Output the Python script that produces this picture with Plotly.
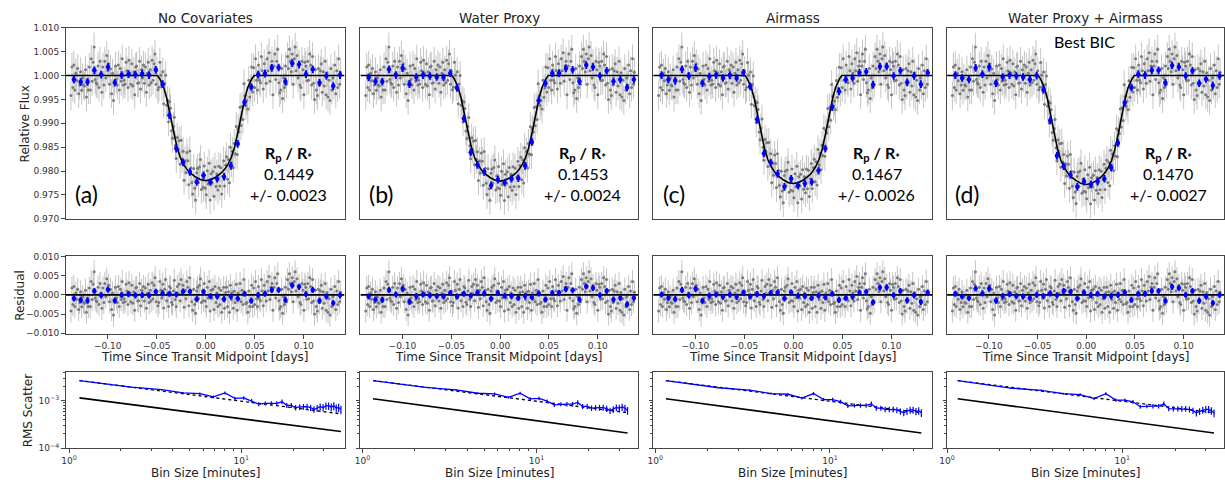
import numpy as np
import plotly.graph_objects as go

W, H = 1225, 487

# ---------------- text ----------------
titles = ["No Covariates", "Water Proxy", "Airmass", "Water Proxy + Airmass"]
letters = ["(a)", "(b)", "(c)", "(d)"]
rp_vals = ["0.1449", "0.1453", "0.1467", "0.1470"]
rp_errs = ["0.0023", "0.0024", "0.0026", "0.0027"]

# ---------------- transit model ----------------
model_t = [-0.1430, -0.0600, -0.0493, -0.0470, -0.0450, -0.0430, -0.0400, -0.0365, -0.0330,
           -0.0294, -0.0260, -0.0226, -0.0190, -0.0155, -0.0100, -0.0050, 0.0000, 0.0050,
           0.0100, 0.0155, 0.0190, 0.0226, 0.0260, 0.0294, 0.0330, 0.0365, 0.0400, 0.0430,
           0.0450, 0.0470, 0.0493, 0.0600, 0.1415]
model_a = [1.0, 1.0, 1.0, 0.99934, 0.99857, 0.99758, 0.99538, 0.99186, 0.98834, 0.98504, 0.98284,
           0.98141, 0.98031, 0.97954, 0.97870, 0.97818, 0.97800, 0.97818, 0.97870, 0.97954, 0.98031,
           0.98141, 0.98284, 0.98504, 0.98834, 0.99186, 0.99538, 0.99758, 0.99857, 0.99934, 1.0, 1.0, 1.0]
model_b = [1.0, 1.0, 1.0, 0.99934, 0.99856, 0.99757, 0.99536, 0.99182, 0.98829, 0.98497, 0.98276,
           0.98133, 0.98022, 0.97945, 0.97861, 0.97808, 0.97790, 0.97808, 0.97861, 0.97945, 0.98022,
           0.98133, 0.98276, 0.98497, 0.98829, 0.99182, 0.99536, 0.99757, 0.99856, 0.99934, 1.0, 1.0, 1.0]
model_c = [1.0, 1.0, 1.0, 0.99932, 0.99853, 0.99751, 0.99525, 0.99164, 0.98802, 0.98463, 0.98237,
           0.98090, 0.97977, 0.97898, 0.97812, 0.97758, 0.97740, 0.97758, 0.97812, 0.97898, 0.97977,
           0.98090, 0.98237, 0.98463, 0.98802, 0.99164, 0.99525, 0.99751, 0.99853, 0.99932, 1.0, 1.0, 1.0]
model_d = [1.0, 1.0, 1.0, 0.99932, 0.99852, 0.99749, 0.99521, 0.99156, 0.98792, 0.98450, 0.98222,
           0.98073, 0.97959, 0.97880, 0.97793, 0.97738, 0.97720, 0.97738, 0.97793, 0.97880, 0.97959,
           0.98073, 0.98222, 0.98450, 0.98792, 0.99156, 0.99521, 0.99749, 0.99852, 0.99932, 1.0, 1.0, 1.0]

# ---------------- unbinned residuals (units of 1e-4), one row per 10-min bin ----------------
gray_resid_e4 = [
    -42, 18, -25, 22, -30, 5, -11,
    15, -38, -20, 8, -31, -5, -20,
    -22, 12, -45, -8, -30, 18, -30,
    35, -12, 28, 60, -8, -15, -18,
    20, -25, 30, 5, -35, 18, -20,
    30, -5, 42, 10, 25, -18, 14,
    -38, 5, -52, -12, 20, -8, -20,
    22, -30, 15, -12, 35, -20, -10,
    -18, 28, 10, -25, 32, 5, -18,
    25, -22, 8, -40, 18, 20, -16,
    -15, 30, -28, 12, -5, 22, -16,
    18, -35, 5, 28, -20, 12, -15,
    32, -10, 25, 45, -18, 10, -28,
    -20, 35, 12, -8, 28, -34, 15,
    40, -15, 5, -30, 22, 18, -19,
    -25, 10, 38, -12, -30, 22, 4,
    28, -15, 40, 5, 25, -32, 12,
    -10, 35, 20, -28, 45, 12, -18,
    -40, 15, -25, -48, 10, 20, -9,
    25, 42, -20, 10, -15, 30, -16,
    -30, 20, -8, 35, -42, 12, -8,
    15, -38, 22, -20, 5, -30, 18,
    -25, 12, -45, -10, 20, -35, 6,
    20, -30, 8, -45, 25, -12, 6,
    -35, 10, -20, 28, -40, 5, -11,
    30, -18, 12, -25, 40, 5, -23,
    -20, -45, 10, -30, -15, 25, -30,
    18, -25, 35, -10, -30, 22, -10,
    -15, 40, 10, -28, 25, 5, -16,
    35, 10, 48, -12, 20, 30, -40,
    20, 45, -8, 30, 55, -15, -36,
    -30, 15, -48, -5, -25, 20, -18,
    40, 15, 55, 30, 8, 45, -18,
    35, 60, 10, 42, -5, 25, -20,
    -25, 30, 12, -40, 28, 20, -11,
    30, -10, 45, 22, -20, 40, -16,
    -50, 12, -30, -42, 15, -20, 10,
    25, -35, 8, -22, 30, -40, 6,
    -45, -10, -52, 15, -30, -5, -20,
    22, -38, 10, -25, 35, -18, 7,
]
gray_t_start, gray_t_end = -0.1375, 0.1375
gray_err = 0.003

# ---------------- binned points ----------------
bin_t = [-0.1345, -0.12754, -0.12058, -0.11362, -0.10666, -0.0997, -0.09274, -0.08578, -0.07882,
         -0.07186, -0.0649, -0.05794, -0.05098, -0.04402, -0.03706, -0.0301, -0.02314, -0.01618,
         -0.00922, -0.00226, 0.0047, 0.01166, 0.01862, 0.02558, 0.03254, 0.0395, 0.04646, 0.05342,
         0.06038, 0.06734, 0.0743, 0.08126, 0.08822, 0.09518, 0.10214, 0.1091, 0.11606, 0.12302,
         0.12998, 0.13694]
bin_flux_a = [0.9992, 0.99865, 0.99865, 1.0011, 1.0002, 1.0018, 0.9985, 1.0001, 1.0003, 1.0002,
              1.0004, 1.0001, 1.0012, 0.9982, 0.99167, 0.9847, 0.9818, 0.9798, 0.9777, 0.9791,
              0.9777, 0.9784, 0.9788, 0.9811, 0.9857, 0.9944, 0.9976, 1.0002, 1.0004, 1.0016,
              1.0017, 0.9987, 1.0026, 1.0023, 1.0003, 1.0013, 0.9985, 0.9999, 0.9978, 1.0001]
bin_flux_b = [0.9996, 0.9988, 0.9987, 1.0013, 1.0001, 1.0016, 0.9982, 0.9997, 1.0001, 0.9999,
              0.9997, 0.9996, 1.0005, 0.9974, 0.9910, 0.9839, 0.9813, 0.9798, 0.9770, 0.9782,
              0.9776, 0.9784, 0.9785, 0.9811, 0.9861, 0.9948, 0.9984, 1.0005, 1.0005, 1.0015,
              1.0012, 0.9988, 1.0022, 1.0018, 0.9999, 1.0010, 0.9988, 0.9992, 0.9975, 0.9992]
bin_flux_c = [1.0001, 0.9992, 0.9989, 1.0013, 0.9999, 1.0016, 0.9984, 0.9998, 1.0001, 0.9995,
              1.0001, 0.9995, 1.0006, 0.9977, 0.9908, 0.9837, 0.9818, 0.9794, 0.9767, 0.9784,
              0.9770, 0.9774, 0.9777, 0.9801, 0.9847, 0.9934, 0.9967, 0.9992, 0.9995, 1.0006,
              1.0008, 0.9981, 1.0019, 1.0019, 0.9999, 1.0010, 0.9986, 0.9999, 0.9982, 1.0006]
bin_flux_d = [1.0001, 0.9995, 0.9992, 1.0016, 1.0003, 1.0018, 0.9984, 0.9997, 1.0001, 0.9999,
              0.9997, 0.9992, 1.0000, 0.9970, 0.9906, 0.9832, 0.9810, 0.9792, 0.9767, 0.9778,
              0.9772, 0.9778, 0.9784, 0.9807, 0.9859, 0.9943, 0.9975, 1.0003, 1.0001, 1.0011,
              1.0011, 0.9985, 1.0021, 1.0018, 0.9999, 1.0010, 0.9984, 0.9993, 0.9979, 0.9999]
bin_res_a = [-9, -13, -15, 10, -1, 14, -15, 0, 2, -1, 0, -1, 8, 4, 3, 1, 9, 8, -11, 8,
             -3, -4, -11, -4, -9, 3, -15, 0, 3, 13, 13, -13, 25, 21, 2, 13, -15, -4, -21, -1]
bin_res_b = [-4, -12, -13, 13, 1, 16, -18, -3, 1, -1, -3, -4, 5, -4, 3, -2, 6, 4, -10, 5,
             -2, -3, -8, -3, -6, 4, -12, 5, 5, 15, 12, -12, 22, 18, -1, 10, -12, -8, -25, -8]
bin_res_c = [1, -8, -11, 13, -1, 16, -16, -2, 1, -5, 1, -5, 6, -4, 2, -3, 5, 6, -9, 6,
             -2, -3, -8, -2, -6, 3, -13, -8, -5, 6, 8, -19, 19, 19, -1, 10, -14, -1, -18, 6]
bin_res_d = [3, -4, -8, 17, 4, 17, -15, -3, 2, -3, -4, -8, 0, -3, 4, -1, 10, 8, -9, 6,
             0, 3, -4, -3, 0, 7, -13, 3, 3, 10, 10, -15, 21, 18, 0, 10, -15, -4, -21, 0]
bin_err = 0.0008

# ---------------- RMS vs bin size ----------------
bin_size_min = [1.15, 2.30, 3.45, 4.60, 5.75, 6.90, 8.05, 9.20, 10.35, 11.50, 12.65, 13.80, 14.95,
                16.10, 17.25, 18.40, 19.55, 20.70, 21.85, 23.00, 24.15, 25.30, 26.45, 27.60, 28.75,
                29.90, 31.05, 32.20, 33.35, 34.50, 35.65, 36.80, 37.95]
rms_a_e3 = [2.66, 1.94, 1.71, 1.46, 1.41, 1.21, 1.46, 1.12, 1.15, 1.00, 0.85, 0.88, 0.88, 0.88, 0.95,
            0.80, 0.80, 0.72, 0.74, 0.75, 0.75, 0.72, 0.66, 0.70, 0.75, 0.72, 0.78, 0.78, 0.74, 0.78,
            0.70, 0.72, 0.65]
rms_b_e3 = [2.66, 1.92, 1.70, 1.44, 1.40, 1.18, 1.44, 1.10, 1.12, 0.98, 0.82, 0.85, 0.85, 0.85, 0.92,
            0.76, 0.76, 0.70, 0.72, 0.72, 0.72, 0.68, 0.62, 0.66, 0.72, 0.70, 0.74, 0.70, 0.62]
rms_c_e3 = [2.66, 1.88, 1.68, 1.42, 1.37, 1.14, 1.42, 1.06, 1.06, 0.96, 0.78, 0.80, 0.80, 0.80, 0.86,
            0.70, 0.70, 0.66, 0.66, 0.66, 0.64, 0.60, 0.56, 0.60, 0.64, 0.64, 0.60, 0.62, 0.56]
rms_d_e3 = [2.66, 1.85, 1.66, 1.41, 1.35, 1.11, 1.41, 1.03, 1.03, 0.95, 0.75, 0.77, 0.77, 0.77, 0.86,
            0.68, 0.68, 0.68, 0.68, 0.68, 0.66, 0.62, 0.55, 0.60, 0.64, 0.66, 0.66, 0.62, 0.55]
rms_rel_err = [0.0, 0.03, 0.04, 0.05, 0.06, 0.07, 0.075, 0.08, 0.085, 0.09, 0.095, 0.10, 0.105, 0.11,
               0.115, 0.12, 0.125, 0.13, 0.135, 0.14, 0.145, 0.15, 0.155, 0.16, 0.165, 0.17, 0.175,
               0.18, 0.185, 0.19, 0.195, 0.20, 0.205]
# expected (dotted) and white-noise reference (solid) lines: [first, last] values
dotted_a = [2.66e-3, 0.53e-3]
dotted_bcd = [2.66e-3, 0.56e-3]
solid_a = [1.15e-3, 0.225e-3]
solid_bcd = [1.10e-3, 0.210e-3]

models = [model_a, model_b, model_c, model_d]
bin_fluxes = [bin_flux_a, bin_flux_b, bin_flux_c, bin_flux_d]
bin_resids = [bin_res_a, bin_res_b, bin_res_c, bin_res_d]
rms_all = [rms_a_e3, rms_b_e3, rms_c_e3, rms_d_e3]
dotted_all = [dotted_a, dotted_bcd, dotted_bcd, dotted_bcd]
solid_all = [solid_a, solid_bcd, solid_bcd, solid_bcd]

# ---------------- layout geometry (pixels) ----------------
col_px = [(58, 339), (355, 635), (650, 931), (946, 1225)]
row_px = [(23.3, 218.3), (256, 336), (374.5, 452.5)]
xlog_ranges = [[-0.02, 1.60], [-0.012, 1.585], [-0.012, 1.585], [0.0, 1.58]]

def px(xp):
    return xp / W

def py(yp):
    return 1 - yp / H

def xn(k):
    return "x" if k == 1 else f"x{k}"

def yn(k):
    return "y" if k == 1 else f"y{k}"

GRAY_MK = "#7a7a7a"
GRAY_ERR = "rgba(150,150,150,0.55)"
BLUE = "#0000ff"
AXC = "#454545"
TICKF = dict(family="DejaVu Sans", size=9, color="#333333")
LABF = dict(family="DejaVu Sans", size=12, color="#222222")

fig = go.Figure()
gray_resid = np.array(gray_resid_e4) * 1e-4
gray_t = np.linspace(gray_t_start, gray_t_end, len(gray_resid))

layout = dict(width=W, height=H, margin=dict(l=0, r=0, t=0, b=0),
              paper_bgcolor="white", plot_bgcolor="white", showlegend=False)
annotations = []

for c in range(4):
    kt, km, kb = c + 1, c + 5, c + 9
    model = models[c]
    gray_flux = np.interp(gray_t, model_t, model) + gray_resid

    # --- top: light curve ---
    fig.add_trace(go.Scatter(x=gray_t, y=gray_flux, mode="markers", xaxis=xn(kt), yaxis=yn(kt),
                             marker=dict(size=3, color=GRAY_MK),
                             error_y=dict(type="constant", value=gray_err, color=GRAY_ERR,
                                          thickness=1, width=0)))
    fig.add_trace(go.Scatter(x=model_t, y=model, mode="lines", xaxis=xn(kt), yaxis=yn(kt),
                             line=dict(color="black", width=1.6)))
    fig.add_trace(go.Scatter(x=bin_t, y=bin_fluxes[c], mode="markers", xaxis=xn(kt), yaxis=yn(kt),
                             marker=dict(size=4.5, color=BLUE),
                             error_y=dict(type="constant", value=bin_err, color=BLUE,
                                          thickness=2, width=0)))

    # --- middle: residuals ---
    fig.add_trace(go.Scatter(x=gray_t, y=gray_resid, mode="markers", xaxis=xn(km), yaxis=yn(km),
                             marker=dict(size=3, color=GRAY_MK),
                             error_y=dict(type="constant", value=gray_err, color=GRAY_ERR,
                                          thickness=1, width=0)))
    fig.add_trace(go.Scatter(x=model_t, y=[0.0] * len(model_t), mode="lines", xaxis=xn(km),
                             yaxis=yn(km), line=dict(color="black", width=1.6)))
    fig.add_trace(go.Scatter(x=bin_t, y=np.array(bin_resids[c]) * 1e-4, mode="markers",
                             xaxis=xn(km), yaxis=yn(km), marker=dict(size=4.5, color=BLUE),
                             error_y=dict(type="constant", value=bin_err, color=BLUE,
                                          thickness=2, width=0)))

    # --- bottom: RMS vs bin size ---
    rms = np.array(rms_all[c]) * 1e-3
    bs = bin_size_min[:len(rms)]
    err = rms * np.array(rms_rel_err[:len(rms)])
    fig.add_trace(go.Scatter(x=[bs[0], bs[-1]], y=solid_all[c], mode="lines", xaxis=xn(kb),
                             yaxis=yn(kb), line=dict(color="black", width=1.6)))
    fig.add_trace(go.Scatter(x=[bs[0], bs[-1]], y=dotted_all[c], mode="lines", xaxis=xn(kb),
                             yaxis=yn(kb), line=dict(color="black", width=1.3, dash="dot")))
    fig.add_trace(go.Scatter(x=bs, y=rms, mode="lines", xaxis=xn(kb), yaxis=yn(kb),
                             line=dict(color=BLUE, width=1.3),
                             error_y=dict(type="data", array=err, color=BLUE, thickness=1.2, width=0)))

    x0, x1 = col_px[c]
    xdom = [px(x0), px(x1)]
    common = dict(showline=True, mirror=True, linecolor=AXC, linewidth=1, showgrid=False,
                  zeroline=False, tickfont=TICKF, tickcolor=AXC, ticklen=3.5, tickwidth=1)

    # x axes
    layout["xaxis" if kt == 1 else f"xaxis{kt}"] = dict(
        domain=xdom, anchor=yn(kt), range=[-0.143, 0.1415], showticklabels=False, ticks="", **common)
    layout[f"xaxis{km}"] = dict(
        domain=xdom, anchor=yn(km), range=[-0.143, 0.1415], ticks="outside",
        tickvals=[-0.10, -0.05, 0.0, 0.05, 0.10],
        ticktext=["\u22120.10", "\u22120.05", "0.00", "0.05", "0.10"], **common)
    minor_x = [2, 3, 4, 5, 6, 7, 8, 9, 20, 30]
    layout[f"xaxis{kb}"] = dict(
        domain=xdom, anchor=yn(kb), type="log", range=xlog_ranges[c], ticks="outside",
        tickvals=[1, 10], ticktext=["10<sup>0</sup>", "10<sup>1</sup>"],
        minor=dict(tickvals=minor_x, ticks="outside", ticklen=2, tickcolor=AXC), **common)

    # y axes
    yt = dict(domain=[py(row_px[0][1]), py(row_px[0][0])], anchor=xn(kt), range=[0.970, 1.010], **common)
    if c == 0:
        yt.update(ticks="outside", tickvals=[0.970, 0.975, 0.980, 0.985, 0.990, 0.995, 1.000, 1.005, 1.010],
                  ticktext=["0.970", "0.975", "0.980", "0.985", "0.990", "0.995", "1.000", "1.005", "1.010"])
    else:
        yt.update(ticks="", showticklabels=False)
    layout["yaxis" if kt == 1 else f"yaxis{kt}"] = yt

    ym = dict(domain=[py(row_px[1][1]), py(row_px[1][0])], anchor=xn(km), range=[-0.0102, 0.0102], **common)
    if c == 0:
        ym.update(ticks="outside", tickvals=[-0.010, -0.005, 0.0, 0.005, 0.010],
                  ticktext=["\u22120.010", "\u22120.005", "0.000", "0.005", "0.010"])
    else:
        ym.update(ticks="", showticklabels=False)
    layout[f"yaxis{km}"] = ym

    minor_y = [2e-4, 3e-4, 4e-4, 5e-4, 6e-4, 7e-4, 8e-4, 9e-4, 2e-3, 3e-3, 4e-3]
    yb = dict(domain=[py(row_px[2][1]), py(row_px[2][0])], anchor=xn(kb), type="log",
              range=[-4.0, -2.39], ticks="outside", tickvals=[1e-4, 1e-3],
              ticktext=["10<sup>\u22124</sup>", "10<sup>\u22123</sup>"],
              minor=dict(tickvals=minor_y, ticks="outside", ticklen=2, tickcolor=AXC), **common)
    if c != 0:
        yb.update(showticklabels=False)
    layout[f"yaxis{kb}"] = yb

    # annotations
    xc = (x0 + x1) / 2
    annotations.append(dict(text=titles[c], x=px(xc), y=py(13), xref="paper", yref="paper",
                            showarrow=False, xanchor="center", yanchor="middle",
                            font=dict(family="DejaVu Sans", size=13.5, color="#222222")))
    annotations.append(dict(text="Time Since Transit Midpoint [days]", x=px(xc), y=py(359),
                            xref="paper", yref="paper", showarrow=False, xanchor="center",
                            yanchor="middle", font=LABF))
    annotations.append(dict(text="Bin Size [minutes]", x=px(xc), y=py(478), xref="paper",
                            yref="paper", showarrow=False, xanchor="center", yanchor="middle",
                            font=LABF))
    annotations.append(dict(text=letters[c], x=px(x0 + 21), y=py(193), xref="paper", yref="paper",
                            showarrow=False, xanchor="center", yanchor="middle",
                            font=dict(family="Lato", size=23, color="black")))
    rx = x1 - 56
    annotations.append(dict(text="<b>R<sub>p</sub> / R<sub>*</sub></b>", x=px(rx), y=py(152),
                            xref="paper", yref="paper", showarrow=False, xanchor="center",
                            yanchor="middle", font=dict(family="Lato", size=16, color="black")))
    annotations.append(dict(text=rp_vals[c], x=px(rx), y=py(172), xref="paper", yref="paper",
                            showarrow=False, xanchor="center", yanchor="middle",
                            font=dict(family="Lato", size=16, color="black")))
    annotations.append(dict(text="+/- " + rp_errs[c], x=px(rx), y=py(193), xref="paper",
                            yref="paper", showarrow=False, xanchor="center", yanchor="middle",
                            font=dict(family="Lato", size=16, color="black")))

annotations.append(dict(text="Best BIC", x=px(1084), y=py(37), xref="paper", yref="paper",
                        showarrow=False, xanchor="center", yanchor="middle",
                        font=dict(family="Lato", size=16, color="black")))
for txt, xx, yy in [("Relative Flux", 17, 121), ("Residual", 12, 296), ("RMS Scatter", 21, 414)]:
    annotations.append(dict(text=txt, x=px(xx), y=py(yy), xref="paper", yref="paper",
                            showarrow=False, xanchor="center", yanchor="middle", textangle=-90,
                            font=LABF))

layout["annotations"] = annotations
fig.update_layout(**layout)
fig.write_html("out.html")
